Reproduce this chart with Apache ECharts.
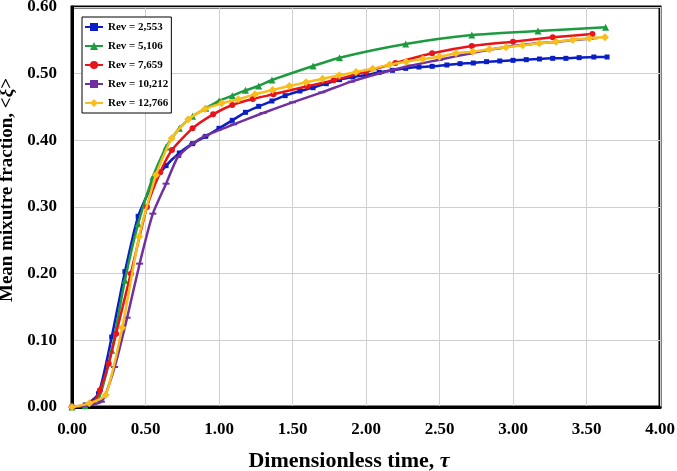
<!DOCTYPE html>
<html>
<head>
<meta charset="utf-8">
<script src="https://cdn.jsdelivr.net/npm/echarts@6/dist/echarts.min.js"></script>
<style>
html,body{margin:0;padding:0;background:#fff;}
#chart{width:677px;height:471px;}
</style>
</head>
<body>
<div id="chart"></div>
<script>
// ---- Data ----
var seriesNames = ['Rev = 2,553', 'Rev = 5,106', 'Rev = 7,659', 'Rev = 10,212', 'Rev = 12,766'];

var blueX = [0, 0.09, 0.18, 0.27, 0.36, 0.45, 0.55, 0.64, 0.73, 0.82, 0.91, 1.00, 1.09, 1.18, 1.27, 1.36, 1.45, 1.55, 1.64, 1.73, 1.82, 1.91, 2.00, 2.09, 2.18, 2.27, 2.36, 2.45, 2.55, 2.64, 2.73, 2.82, 2.91, 3.00, 3.09, 3.18, 3.27, 3.36, 3.45, 3.55, 3.64];
var blueY = [0, 0.003, 0.02, 0.105, 0.203, 0.286, 0.335, 0.362, 0.381, 0.395, 0.406, 0.418, 0.430, 0.442, 0.451, 0.459, 0.467, 0.474, 0.479, 0.485, 0.491, 0.495, 0.498, 0.502, 0.505, 0.508, 0.510, 0.511, 0.513, 0.515, 0.516, 0.518, 0.519, 0.520, 0.521, 0.522, 0.523, 0.523, 0.524, 0.525, 0.525];

var greenX = [0, 0.09, 0.18, 0.27, 0.36, 0.45, 0.55, 0.64, 0.73, 0.82, 0.91, 1.00, 1.09, 1.18, 1.27, 1.36, 1.64, 1.82, 2.27, 2.72, 3.17, 3.63];
var greenY = [0, 0.002, 0.012, 0.085, 0.19, 0.275, 0.345, 0.39, 0.418, 0.436, 0.448, 0.459, 0.467, 0.475, 0.4815, 0.4905, 0.5115, 0.524, 0.5445, 0.558, 0.564, 0.5695];

var redX = [0, 0.14, 0.19, 0.25, 0.30, 0.40, 0.51, 0.60, 0.68, 0.82, 0.96, 1.09, 1.23, 1.37, 1.60, 1.78, 2.00, 2.20, 2.45, 2.72, 3.00, 3.27, 3.54];
var redY = [0, 0.006, 0.025, 0.065, 0.11, 0.20, 0.30, 0.352, 0.3855, 0.418, 0.439, 0.453, 0.462, 0.469, 0.481, 0.490, 0.503, 0.516, 0.5305, 0.5415, 0.548, 0.5545, 0.5595];

var purpleX = [0, 0.20, 0.29, 0.375, 0.46, 0.55, 0.64, 0.72, 0.82, 0.91, 1.10, 1.30, 1.50, 1.70, 1.90, 2.10, 2.30, 2.50, 2.70, 2.90, 3.10, 3.30, 3.55];
var purpleY = [0, 0.008, 0.06, 0.134, 0.215, 0.29, 0.335, 0.375, 0.395, 0.407, 0.424, 0.441, 0.457, 0.472, 0.488, 0.501, 0.512, 0.521, 0.530, 0.538, 0.544, 0.548, 0.553];

var yellowX = [0, 0.118, 0.229, 0.342, 0.456, 0.571, 0.678, 0.791, 0.905, 1.018, 1.131, 1.245, 1.365, 1.478, 1.592, 1.705, 1.818, 1.932, 2.045, 2.159, 2.272, 2.386, 2.499, 2.612, 2.726, 2.840, 2.952, 3.066, 3.179, 3.293, 3.406, 3.519, 3.626];
var yellowY = [0, 0.0055, 0.018, 0.119, 0.2555, 0.348, 0.403, 0.4315, 0.447, 0.4555, 0.4615, 0.469, 0.4755, 0.4815, 0.487, 0.4925, 0.4975, 0.5025, 0.5075, 0.5135, 0.518, 0.522, 0.5255, 0.5305, 0.533, 0.5365, 0.5395, 0.5425, 0.5455, 0.548, 0.5505, 0.553, 0.5545];

var xTicks = [0, 0.5, 1.0, 1.5, 2.0, 2.5, 3.0, 3.5, 4.0];
var yTicks = [0, 0.1, 0.2, 0.3, 0.4, 0.5, 0.6];

function pairs(xs, ys) { return xs.map(function (x, i) { return [x, ys[i]]; }); }

var FONT = '"Liberation Serif", "Times New Roman", serif';
var colors = ['#0A1EC4', '#1E9B40', '#E8141A', '#7030A0', '#F7BE1C'];
var symbols = ['rect', 'triangle', 'circle', 'rect', 'diamond'];
var symbolSizes = [5, 7, 6, [7, 2], 8];
var datas = [pairs(blueX, blueY), pairs(greenX, greenY), pairs(redX, redY), pairs(purpleX, purpleY), pairs(yellowX, yellowY)];

var chart = echarts.init(document.getElementById('chart'), null, { renderer: 'canvas' });
var option = {
  animation: false,
  backgroundColor: '#ffffff',
  color: colors,
  grid: {
    left: 72, right: 17, top: 7, bottom: 64,
    show: true, borderColor: '#000', borderWidth: 3, backgroundColor: 'transparent',
    containLabel: false, outerBoundsMode: 'none'
  },
  legend: {
    orient: 'vertical',
    left: 82, top: 17,
    backgroundColor: '#fff',
    borderColor: '#000', borderWidth: 1,
    padding: [4, 3, 4, 2],
    itemWidth: 18, itemHeight: 10, itemGap: 7,
    textStyle: { fontFamily: FONT, fontWeight: 'bold', fontSize: 11, color: '#000', lineHeight: 12 },
    data: seriesNames
  },
  xAxis: {
    type: 'value', min: xTicks[0], max: xTicks[xTicks.length - 1], interval: 0.5,
    name: 'Dimensionless time, {i|τ}', nameLocation: 'middle', nameGap: 43,
    nameTextStyle: { fontFamily: FONT, fontWeight: 'bold', fontSize: 22, color: '#000', padding: [0, 34, 0, 0],
      rich: { i: { fontFamily: FONT, fontWeight: 'bold', fontStyle: 'italic', fontSize: 22, color: '#000' } } },
    axisLine: { show: true, onZero: false, lineStyle: { color: '#000', width: 3 } },
    axisTick: { show: false },
    axisLabel: { fontFamily: FONT, fontWeight: 'bold', fontSize: 17, color: '#000', margin: 14,
      formatter: function (v) { return v.toFixed(2); } },
    splitLine: { show: true, lineStyle: { color: '#cfcfcf', width: 1 } }
  },
  yAxis: {
    type: 'value', min: yTicks[0], max: yTicks[yTicks.length - 1], interval: 0.1,
    name: 'Mean mixutre fraction, <{i|ξ}>', nameLocation: 'middle', nameGap: 50, nameRotate: 90,
    nameTextStyle: { fontFamily: FONT, fontWeight: 'bold', fontSize: 19, color: '#000', padding: [0, 0, 0, 34],
      rich: { i: { fontFamily: FONT, fontWeight: 'bold', fontStyle: 'italic', fontSize: 19, color: '#000' } } },
    axisLine: { show: true, onZero: false, lineStyle: { color: '#000', width: 3 } },
    axisTick: { show: false },
    axisLabel: { fontFamily: FONT, fontWeight: 'bold', fontSize: 17, color: '#000', margin: 15,
      formatter: function (v) { return v.toFixed(2); } },
    splitLine: { show: true, lineStyle: { color: '#cfcfcf', width: 1 } }
  },
  series: seriesNames.map(function (n, i) {
    return {
      name: n, type: 'line', data: datas[i],
      smooth: 0.2,
      symbol: symbols[i], symbolSize: symbolSizes[i], showSymbol: true,
      lineStyle: { width: 2.5, color: colors[i] },
      itemStyle: { color: colors[i], borderWidth: 0 },
      z: 2 + i
    };
  })
};
chart.setOption(option);
</script>
</body>
</html>
